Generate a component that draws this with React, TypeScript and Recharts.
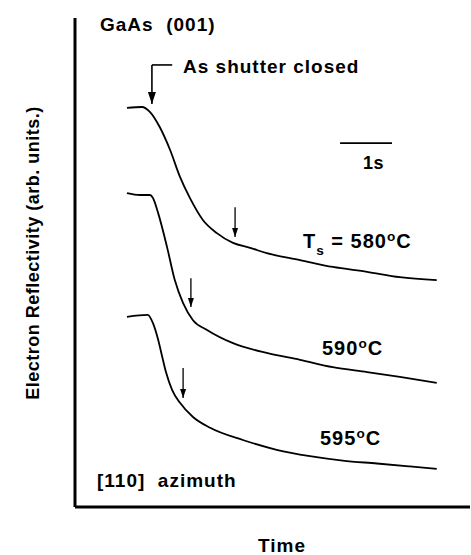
import type { CSSProperties, ReactNode } from "react";
import { LineChart, Line, XAxis, YAxis, ReferenceLine, ReferenceDot } from "recharts";

// time in seconds (0 = left axis), reflectivity in arb. units (0..100)
const T_580 = [1.0, 1.29, 1.44, 1.63, 1.83, 2.02, 2.21, 2.46, 2.73, 3.04, 3.37, 3.69, 4.33, 4.96, 5.62, 6.25, 6.96];
const R_580 = [81.6, 81.8, 80.8, 77.7, 73.0, 67.5, 63.2, 58.7, 56.0, 54.0, 53.0, 51.9, 50.5, 49.1, 48.1, 47.0, 46.4];

const T_590 = [1.0, 1.25, 1.44, 1.5, 1.6, 1.77, 1.92, 2.08, 2.27, 2.54, 3.04, 3.69, 4.33, 4.96, 5.62, 6.25, 6.96];
const R_590 = [64.2, 63.8, 63.8, 63.2, 60.1, 53.2, 46.4, 41.7, 38.2, 36.2, 33.5, 31.5, 30.1, 28.6, 27.6, 26.6, 25.4];

const T_595 = [1.0, 1.4, 1.5, 1.6, 1.67, 1.75, 1.87, 2.02, 2.27, 2.6, 3.23, 3.88, 4.52, 5.15, 5.81, 6.44, 6.96];
const R_595 = [38.9, 39.3, 37.6, 34.2, 31.1, 27.6, 23.9, 21.3, 18.4, 16.2, 13.7, 11.7, 10.4, 9.5, 8.9, 8.3, 7.8];

const X_MAX = 7.6;
const Y_MAX = 100;

// small arrows marking the knee of each curve: [t, yTop, yTip]
const KNEE_ARROWS: [number, number, number][] = [
  [3.08, 61.3, 55.2],
  [2.23, 46.8, 40.9],
  [2.08, 28.4, 22.3],
];
const SHUTTER = { t: 1.48, tEnd: 1.87, yTop: 90.4, yTip: 82.4 };
const SCALE_BAR = { t0: 5.1, t1: 6.1, y: 74.4 };

const zip = (ts: number[], rs: number[]) => ts.map((t, i) => ({ t, r: rs[i] }));

const FONT = '"Liberation Sans", Arial, Helvetica, sans-serif';

function Txt({ x, y, size = 19, ls = 1, children }: { x: number; y: number; size?: number; ls?: number; children: ReactNode }) {
  const st: CSSProperties = {
    position: "absolute",
    left: x,
    top: y - size * 0.49,
    fontFamily: FONT,
    fontWeight: 700,
    fontSize: size,
    lineHeight: 1,
    letterSpacing: ls,
    whiteSpace: "pre",
    color: "#000",
  };
  return <div style={st}>{children}</div>;
}

const sup: CSSProperties = { fontSize: "0.68em", verticalAlign: "0.55em" };
const sub: CSSProperties = { fontSize: "0.68em", verticalAlign: "-0.45em" };

function head(w: number, h: number) {
  return (p: any) => (
    <path d={`M${p.cx - w / 2},${p.cy - h} L${p.cx + w / 2},${p.cy - h} L${p.cx},${p.cy} Z`} fill="#000" />
  );
}

export default function App() {
  return (
    <div style={{ position: "absolute", left: 0, top: 0, width: 471, height: 555, background: "#fff" }}>
      <LineChart width={471} height={555} margin={{ top: 18, right: 1, left: 75, bottom: 48 }}>
        <XAxis type="number" dataKey="t" domain={[0, X_MAX]} hide allowDataOverflow />
        <YAxis type="number" dataKey="r" domain={[0, Y_MAX]} hide allowDataOverflow />

        {/* frame: left and bottom axis lines */}
        <ReferenceLine x={0} stroke="#000" strokeWidth={3} ifOverflow="visible" />
        <ReferenceLine y={0} stroke="#000" strokeWidth={3} ifOverflow="visible" />

        <Line data={zip(T_580, R_580)} dataKey="r" type="monotone" stroke="#000" strokeWidth={1.8} dot={false} isAnimationActive={false} />
        <Line data={zip(T_590, R_590)} dataKey="r" type="monotone" stroke="#000" strokeWidth={1.8} dot={false} isAnimationActive={false} />
        <Line data={zip(T_595, R_595)} dataKey="r" type="monotone" stroke="#000" strokeWidth={1.8} dot={false} isAnimationActive={false} />

        {/* As shutter closed bracket arrow */}
        <ReferenceLine segment={[{ x: SHUTTER.t, y: SHUTTER.yTop }, { x: SHUTTER.tEnd, y: SHUTTER.yTop }]} stroke="#000" strokeWidth={1.6} />
        <ReferenceLine segment={[{ x: SHUTTER.t, y: SHUTTER.yTop }, { x: SHUTTER.t, y: SHUTTER.yTip }]} stroke="#000" strokeWidth={1.6} />
        <ReferenceDot x={SHUTTER.t} y={SHUTTER.yTip} r={1} shape={head(8, 12)} />

        {/* knee arrows */}
        {KNEE_ARROWS.map(([t, y0, y1], i) => (
          <ReferenceLine key={"s" + i} segment={[{ x: t, y: y0 }, { x: t, y: y1 }]} stroke="#000" strokeWidth={1.3} />
        ))}
        {KNEE_ARROWS.map(([t, , y1], i) => (
          <ReferenceDot key={"h" + i} x={t} y={y1} r={1} shape={head(6, 9)} />
        ))}

        {/* 1 s scale bar */}
        <ReferenceLine segment={[{ x: SCALE_BAR.t0, y: SCALE_BAR.y }, { x: SCALE_BAR.t1, y: SCALE_BAR.y }]} stroke="#000" strokeWidth={1.8} />
      </LineChart>

      <Txt x={100} y={24}>{"GaAs  (001)"}</Txt>
      <Txt x={183} y={66}>As shutter closed</Txt>
      <Txt x={363} y={163} size={18} ls={0.5}>1s</Txt>
      <Txt x={303} y={240} size={20}>
        T<span style={sub}>s</span>{" = 580"}<span style={sup}>o</span>C
      </Txt>
      <Txt x={322} y={347} size={20}>
        590<span style={sup}>o</span>C
      </Txt>
      <Txt x={320} y={437} size={20}>
        595<span style={sup}>o</span>C
      </Txt>
      <Txt x={97} y={480}>{"[110]  azimuth"}</Txt>
      <Txt x={258} y={545}>Time</Txt>

      <div
        style={{
          position: "absolute",
          left: 33,
          top: 253,
          transform: "translate(-50%, -50%) rotate(-90deg)",
          fontFamily: FONT,
          fontWeight: 700,
          fontSize: 18,
          lineHeight: 1,
          letterSpacing: 0.5,
          whiteSpace: "pre",
        }}
      >
        Electron Reflectivity (arb. units.)
      </div>
    </div>
  );
}
